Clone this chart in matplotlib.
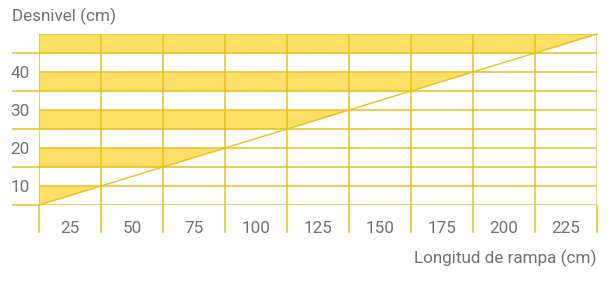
import numpy as np
import matplotlib
matplotlib.use("Agg")
import matplotlib.pyplot as plt

# ---- data ----
x_tick_labels = [25, 50, 75, 100, 125, 150, 175, 200, 225]   # longitud (cm), column centres
y_tick_labels = [10, 20, 30, 40]                              # desnivel (cm)
x_edges = [12.5, 37.5, 62.5, 87.5, 112.5, 137.5, 162.5, 187.5, 212.5, 237.5]
y_edges = [5, 10, 15, 20, 25, 30, 35, 40, 45, 50]
band_lows = [5, 15, 25, 35, 45]
band_highs = [10, 20, 30, 40, 50]
ramp_x = [12.5, 237.5]
ramp_y = [5, 50]

FILL = "#FFDF66"
LINE = "#E6C21C"
TEXT = "#717173"

plt.rcParams['font.family'] = ['Roboto', 'DejaVu Sans']

W, H = 613, 283
fig = plt.figure(figsize=(W / 100, H / 100), dpi=100)
left, right, top, bottom = 39, 597, 34, 205
ax = fig.add_axes([left / W, 1 - bottom / H, (right - left) / W, (bottom - top) / H])
ax.set_xlim(x_edges[0], x_edges[-1])
ax.set_ylim(y_edges[0], y_edges[-1])

# yellow bands left/above the ramp line
xs = np.linspace(x_edges[0], x_edges[-1], 2000)
line_y = np.interp(xs, ramp_x, ramp_y)
for lo, hi in zip(band_lows, band_highs):
    lower = np.clip(line_y, lo, hi)
    ax.fill_between(xs, lower, hi, where=line_y < hi, color=FILL, lw=0, zorder=1)

# grid
for y in y_edges:
    ax.axhline(y, color=LINE, lw=1.1, zorder=2)
for x in x_edges[:-1]:
    ax.axvline(x, color=LINE, lw=1.1, zorder=2)
ax.axvline(x_edges[-1], color="#EBD36A", lw=2.0, zorder=2)

# ramp line
ax.plot(ramp_x, ramp_y, color=LINE, lw=1.0, zorder=3, clip_on=False)

for s in ax.spines.values():
    s.set_visible(False)

FS = 12.3
# extended ticks
ax.set_xticks(x_edges)
ax.set_xticklabels([])
ax.set_xticks(x_tick_labels, minor=True)
ax.set_xticklabels([str(v) for v in x_tick_labels], minor=True)
ax.tick_params(axis='x', which='major', length=20.5, width=1.1, color=LINE, direction='out')
ax.tick_params(axis='x', which='minor', length=0, pad=11.5, labelsize=FS, labelcolor=TEXT)

ax.set_yticks(band_lows)
ax.set_yticklabels([])
ax.set_yticks(y_tick_labels, minor=True)
ax.set_yticklabels([str(v) for v in y_tick_labels], minor=True)
ax.tick_params(axis='y', which='major', length=19.5, width=1.1, color=LINE, direction='out')
ax.tick_params(axis='y', which='minor', length=0, pad=6.5, labelsize=FS, labelcolor=TEXT)

fig.text(12 / W, 1 - 16 / H, "Desnivel (cm)", color=TEXT, fontsize=FS, ha='left', va='center')
fig.text(596 / W, 1 - 258 / H, "Longitud de rampa (cm)", color=TEXT, fontsize=FS, ha='right', va='center')

fig.savefig("out.png", dpi=100)
